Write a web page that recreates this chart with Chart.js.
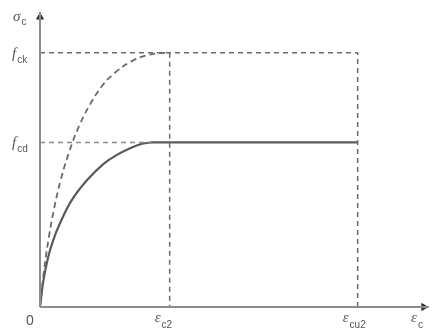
<!DOCTYPE html>
<html>
<head>
<meta charset="utf-8">
<script src="https://cdn.jsdelivr.net/npm/chart.js@4"></script>
<style>
  body { margin: 0; background: #fff; }
  #wrap { width: 434px; height: 335px; }
</style>
</head>
<body>
<div id="wrap"><canvas id="sigmaEps" width="434" height="335"></canvas></div>
<script>
// key values (fck = 1, strains in the figure's own units)
const fck = 1.0;
const fcd = 0.647;
const epsC2 = 2.0;
const epsCu2 = 4.9;
const xMax = 6.0;
const yMax = 1.16;

// dashed curve (characteristic)
const dashedX = [0, 0.06, 0.14, 0.22, 0.32, 0.45, 0.6, 0.78, 0.96, 1.15, 1.4, 1.65, 1.85, 2.0];
const dashedY = [0, 0.14, 0.28, 0.39, 0.50, 0.61, 0.71, 0.80, 0.87, 0.92, 0.965, 0.99, 0.998, 1.0];

// solid curve (design), then plateau to epsCu2
const solidX = [0, 0.05, 0.12, 0.2, 0.31, 0.49, 0.73, 0.99, 1.2, 1.4, 1.55, 1.71];
const solidY = [0, 0.10, 0.19, 0.26, 0.33, 0.42, 0.50, 0.565, 0.60, 0.625, 0.64, 0.647];
const plateauX = [1.71, epsCu2];

// tick labels
const xTickValues = [0, epsC2, epsCu2];
const xTickMain = ['0', 'ε', 'ε'];
const xTickSub = ['', 'c2', 'cu2'];
const yTickValues = [fck, fcd];
const yTickMain = ['f', 'f'];
const yTickSub = ['ck', 'cd'];

const toPts = (xs, ys) => xs.map((x, i) => ({x: x, y: ys[i]}));

const lineGray = '#6a6a6a';
const axisGray = '#8c8c8c';
const dash = [5, 4];

function seg(data, color, width, dashPat) {
    return {
        data: data,
        borderColor: color,
        borderWidth: width,
        borderDash: dashPat || [],
        pointRadius: 0,
        fill: false,
        clip: false
    };
}

const labelPlugin = {
    id: 'labels',
    afterDraw(chart) {
        const ctx = chart.ctx;
        const xs = chart.scales.x, ys = chart.scales.y;
        const x0 = xs.getPixelForValue(0), y0 = ys.getPixelForValue(0);
        ctx.save();
        ctx.fillStyle = '#555';
        ctx.textBaseline = 'alphabetic';
        const mainFont = 'italic 15px "Liberation Serif"';
        const subFont = '10px "Liberation Sans"';
        function label(main, sub, x, y, dy) {
            ctx.font = mainFont;
            ctx.fillText(main, x, y);
            const w = ctx.measureText(main).width;
            ctx.font = subFont;
            ctx.fillText(sub, x + w + 1, y + dy);
        }
        // x ticks
        xTickValues.forEach((v, i) => {
            const px = xs.getPixelForValue(v);
            if (xTickSub[i] === '') {
                ctx.font = '14px "Liberation Sans"';
                ctx.textAlign = 'center';
                ctx.fillText(xTickMain[i], px - 10, y0 + 18);
                ctx.textAlign = 'left';
            } else {
                label(xTickMain[i], xTickSub[i], px - 15, y0 + 15, 6);
            }
        });
        // y ticks
        yTickValues.forEach((v, i) => {
            const py = ys.getPixelForValue(v);
            label(yTickMain[i], yTickSub[i], x0 - 28, py + 5, 5);
        });
        // axis titles
        label('σ', 'c', x0 - 27, ys.getPixelForValue(yMax) + 9, 4);
        label('ε', 'c', xs.getPixelForValue(xMax) - 18, y0 + 15, 6);
        ctx.restore();
    }
};

new Chart(document.getElementById('sigmaEps'), {
    type: 'line',
    data: {
        datasets: [
            // axes
            seg([{x: 0, y: 0}, {x: xMax, y: 0}], axisGray, 2),
            seg([{x: 0, y: 0}, {x: 0, y: yMax}], axisGray, 2),
            // reference dashed lines
            seg([{x: 0, y: fck}, {x: epsCu2, y: fck}, {x: epsCu2, y: 0}], lineGray, 1.5, dash),
            seg([{x: epsC2, y: fck}, {x: epsC2, y: 0}], lineGray, 1.5, dash),
            seg([{x: 0, y: fcd}, {x: 1.71, y: fcd}], '#8a8a8a', 1.4, dash),
            // curves
            Object.assign(seg(toPts(dashedX, dashedY), lineGray, 1.8, [6, 4]), {tension: 0.4}),
            Object.assign(seg(toPts(solidX, solidY), '#5a5a5a', 2.2), {tension: 0.4}),
            seg(toPts(plateauX, [fcd, fcd]), '#5a5a5a', 2.2),
            // arrow heads
            {
                data: [{x: 0, y: yMax - 0.02}],
                pointStyle: 'triangle', pointRadius: 4, pointRotation: 0,
                backgroundColor: '#333', borderColor: '#333', borderWidth: 1,
                showLine: false, clip: false
            },
            {
                data: [{x: xMax - 0.08, y: 0}],
                pointStyle: 'triangle', pointRadius: 4, pointRotation: 90,
                backgroundColor: '#333', borderColor: '#333', borderWidth: 1,
                showLine: false, clip: false
            }
        ]
    },
    options: {
        responsive: false,
        animation: false,
        events: [],
        layout: { padding: { left: 40, right: 1, top: 12, bottom: 28 } },
        plugins: { legend: { display: false }, tooltip: { enabled: false } },
        scales: {
            x: { type: 'linear', min: 0, max: xMax, display: false },
            y: { type: 'linear', min: 0, max: yMax, display: false }
        }
    },
    plugins: [labelPlugin]
});
</script>
</body>
</html>
